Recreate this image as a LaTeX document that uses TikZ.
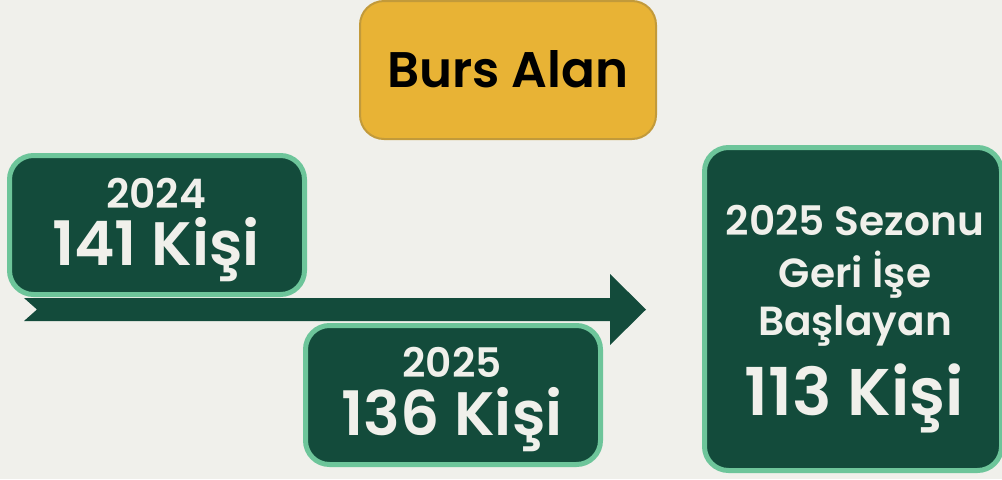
\documentclass[tikz,border=0pt]{standalone}
\usepackage{fontspec}
\setmainfont{Poppins}[UprightFont=* SemiBold, BoldFont=* Bold]
\definecolor{paper}{HTML}{F0F0EB}
\definecolor{pine}{HTML}{134B3B}
\definecolor{mint}{HTML}{6DC59A}
\definecolor{gold}{HTML}{E8B335}
\definecolor{goldline}{HTML}{C29A3A}

\begin{document}
\begin{tikzpicture}[x=0.75pt,y=-0.75pt,
  greenbox/.style={draw=mint, fill=pine, line width=3.75pt, rounded corners=18pt, inner sep=0pt},
  smalltxt/.style={anchor=base, text=paper, font=\fontsize{30.5}{36}\selectfont},
  bigtxt/.style={anchor=base, text=paper, font=\fontsize{46}{56}\selectfont}]
  \def\px{0.75pt}
  \fill[paper] (0,0) rectangle (1002,479);
  \useasboundingbox (0,0) rectangle (1002,479);
  % timeline arrow
  \fill[pine] (24,298)--(610,298)--(610,274)--(646,309.5)--(610,345)--(610,321)--(24,321)--(37,309.5)--cycle;
  % title
  \node[draw=goldline, fill=gold, line width=1.5pt, rounded corners=18pt,
        minimum width=296*\px, minimum height=138*\px] (burs) at (508,70) {};
  \node[anchor=base, font=\fontsize{37.5}{45}\selectfont] (bursTxt) at (508,87) {Burs Alan};
  % years
  \node[greenbox, minimum width=295*\px, minimum height=139*\px] (box24) at (157,225) {};
  \node[smalltxt] (year24) at (156,208) {2024};
  \node[bigtxt] (count24) at (156,265) {141 Kişi};
  \node[greenbox, minimum width=295*\px, minimum height=139*\px] (box25) at (453,395) {};
  \node[smalltxt] (year25) at (452,377) {2025};
  \node[bigtxt] (count25) at (452,435) {136 Kişi};
  % returning
  \node[greenbox, minimum width=297*\px, minimum height=323*\px] (boxBack) at (853,309) {};
  \node[smalltxt] (back1) at (855,235) {2025 Sezonu};
  \node[smalltxt] (back2) at (855,287) {Geri İşe};
  \node[smalltxt] (back3) at (855,335) {Başlayan};
  \node[bigtxt, font=\fontsize{49.5}{60}\selectfont] (countBack) at (854,415) {113 Kişi};
\end{tikzpicture}
\end{document}
